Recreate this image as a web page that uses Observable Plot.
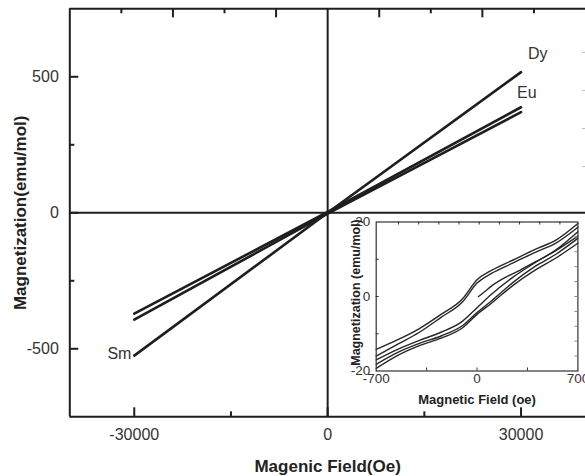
<!DOCTYPE html>
<html>
<head>
<meta charset="utf-8">
<script src="https://cdn.jsdelivr.net/npm/d3@7"></script>
<script src="https://cdn.jsdelivr.net/npm/@observablehq/plot@0.6"></script>
<style>
  html, body { margin: 0; padding: 0; background: #fff; }
  #wrap { position: relative; width: 585px; height: 476px; overflow: hidden; font-family: "Liberation Sans", Arial, sans-serif; }
  #inset { position: absolute; left: 330px; top: 212px; }
  svg { overflow: visible; }
</style>
</head>
<body>
<div id="wrap"><div id="main"></div><div id="inset"></div></div>
<script>
// ---- Main chart data (Magnetic field in Oe, magnetization in emu/mol)
const fieldOe = [-30000, 0, 30000];
const dyM = [-525, 0, 517];
const euM = [-371, 3, 388];
const smM = [-393, -3, 370];
const seriesNames = ["Dy", "Eu", "Sm"];

// annotation labels
const labelText = ["Dy", "Eu", "Sm"];
const labelField = [32600, 30900, -32300];
const labelMag = [586, 442, -517];

// axis ticks
const xTickLabels = [-30000, 0, 30000];
const xMinorTicks = [-15000, 15000];
const yTickLabels = [-500, 0, 500];
const yMinorTicks = [-250, 250];
const topLongTicks = [-24000, -8000, 8000, 24000];
const topShortTicks = [-32000, -16000, 16000, 32000];
const rightTicks = [170, 310, 450, 590];

// ---- Inset data (Magnetic field in oe, magnetization in emu/mol)
const insetH = [-700, -550, -400, -250, -100, 0, 100, 250, 400, 550, 700];
const loopADown = [-14.2, -11.6, -8.6, -4.8, -0.6, 4.5, 7.0, 9.8, 12.6, 15.2, 19.6];
const loopBDown = [-16.0, -12.8, -9.6, -5.6, -1.4, 3.6, 6.2, 9.0, 11.8, 14.4, 18.6];
const loopAUp   = [-18.2, -15.0, -12.6, -10.6, -7.8, -4.3, -1.2, 3.8, 8.0, 11.4, 15.6];
const loopBUp   = [-19.3, -15.8, -13.2, -11.2, -8.4, -4.8, -1.8, 3.0, 7.0, 10.4, 14.3];
const loopCUp   = [-17.0, -14.2, -11.8, -9.6, -6.6, -3.0, 0.6, 5.2, 9.0, 12.6, 17.4];
const initH = [10, 50, 100, 200, 300, 400, 550, 700];
const initM = [0, 1.2, 2.8, 5.2, 7.1, 9.2, 12.4, 16.2];

const insetXTicks = [-700, 0, 700];
const insetYTicks = [-20, 0, 20];
const insetTopTicks = [-545, -405, -265, -125, 15, 155, 295, 435, 575];
const insetBottomTicks = [-350, 0, 350];
const insetLeftTicks = [-10, 0, 10];
const insetRightTicks = [-16, -12, -8, -4, 0, 4, 8, 12, 16];

// ---- build tables
const mainRows = [];
[dyM, euM, smM].forEach((arr, s) => arr.forEach((m, i) => mainRows.push({series: seriesNames[s], H: fieldOe[i], M: m})));
const labels = labelText.map((t, i) => ({t, H: labelField[i], M: labelMag[i]}));

const insetRows = [];
[["A-down", loopADown], ["B-down", loopBDown], ["A-up", loopAUp], ["B-up", loopBUp], ["C-up", loopCUp]]
  .forEach(([k, arr]) => arr.forEach((m, i) => insetRows.push({k, H: insetH[i], M: m})));
initH.forEach((h, i) => insetRows.push({k: "init", H: h, M: initM[i]}));

const W = 585, Hh = 476, mL = 69.3, mR = 0, mT = 8.3, mB = 59.7;
const pw = W - mL - mR, ph = Hh - mT - mB;
const ink = "#1e1e1e";

const main = Plot.plot({
  width: W, height: Hh,
  marginLeft: mL, marginRight: mR, marginTop: mT, marginBottom: mB,
  x: {domain: [-40000, 40000]},
  y: {domain: [-750, 750]},
  style: {fontFamily: "'Liberation Sans', Arial, sans-serif", color: "#2a2a2a", background: "transparent"},
  marks: [
    // frame (left, top, bottom)
    Plot.ruleX([-40000], {stroke: ink, strokeWidth: 2}),
    Plot.ruleY([-750, 750], {stroke: ink, strokeWidth: 2}),
    // zero lines
    Plot.ruleX([0], {stroke: ink, strokeWidth: 2}),
    Plot.ruleY([0], {stroke: ink, strokeWidth: 2}),
    // inward ticks
    Plot.ruleX(xTickLabels, {stroke: ink, strokeWidth: 2, insetTop: ph - 9}),
    Plot.ruleX(xMinorTicks, {stroke: ink, strokeWidth: 2, insetTop: ph - 5}),
    Plot.ruleX(topLongTicks, {stroke: ink, strokeWidth: 2, insetBottom: ph - 9}),
    Plot.ruleX(topShortTicks, {stroke: ink, strokeWidth: 2, insetBottom: ph - 5}),
    Plot.ruleY(yTickLabels, {stroke: ink, strokeWidth: 2, insetRight: pw - 9}),
    Plot.ruleY(yMinorTicks, {stroke: ink, strokeWidth: 2, insetRight: pw - 5}),
    Plot.ruleY(rightTicks, {stroke: "#bbb", strokeWidth: 1, insetLeft: pw - 3}),
    // lines
    Plot.line(mainRows, {x: "H", y: "M", z: "series", stroke: ink, strokeWidth: 2.6}),
    // labels
    Plot.text(labels, {x: "H", y: "M", text: "t", fontSize: 16, fill: "#333"}),
    // tick labels
    Plot.axisX({anchor: "bottom", ticks: xTickLabels, tickSize: 0, tickPadding: 12, fontSize: 16, tickFormat: d => String(d), label: null, fill: "#333"}),
    Plot.axisY({anchor: "left", ticks: yTickLabels, tickSize: 0, tickPadding: 11, fontSize: 16, tickFormat: d => String(d), label: null, fill: "#333"}),
    // axis titles
    Plot.text(["Magenic Field(Oe)"], {frameAnchor: "bottom", dy: 50, text: d => d, textAnchor: "middle", lineAnchor: "middle", fontSize: 17, fontWeight: "bold", fill: "#222"}),
    Plot.text(["Magnetization(emu/mol)"], {frameAnchor: "left", dx: -49.3, text: d => d, textAnchor: "middle", lineAnchor: "middle", rotate: -90, fontSize: 17, fontWeight: "bold", fill: "#222"})
  ]
});
document.getElementById("main").appendChild(main);

// ---- inset
const iW = 255, iH = 200, iL = 45.7, iR = 7.6, iT = 9.5, iB = 41.5;
const ipw = iW - iL - iR, iph = iH - iT - iB;
const iink = "#333";
const inset = Plot.plot({
  width: iW, height: iH,
  marginLeft: iL, marginRight: iR, marginTop: iT, marginBottom: iB,
  x: {domain: [-700, 700]},
  y: {domain: [-20, 20]},
  style: {fontFamily: "'Liberation Sans', Arial, sans-serif", color: "#2a2a2a", background: "transparent"},
  marks: [
    Plot.frame({fill: "white", stroke: "none"}),
    Plot.line(insetRows, {x: "H", y: "M", z: "k", stroke: "#262626", strokeWidth: 1.4, curve: "monotone-x"}),
    Plot.frame({stroke: iink, strokeWidth: 1.2}),
    Plot.ruleX(insetTopTicks, {stroke: iink, strokeWidth: 1, insetBottom: iph - 3}),
    Plot.ruleX(insetBottomTicks, {stroke: iink, strokeWidth: 1, insetTop: iph - 3}),
    Plot.ruleY(insetLeftTicks, {stroke: iink, strokeWidth: 1, insetRight: ipw - 3}),
    Plot.ruleY(insetRightTicks, {stroke: "#888", strokeWidth: 1, insetLeft: ipw - 3}),
    Plot.axisX({anchor: "bottom", ticks: insetXTicks, tickSize: 0, tickPadding: 2, fontSize: 13.5, tickFormat: d => String(d), label: null, fill: "#333"}),
    Plot.axisY({anchor: "left", ticks: insetYTicks, tickSize: 0, tickPadding: 6, fontSize: 13.5, tickFormat: d => String(d), label: null, fill: "#333"}),
    Plot.text(["Magnetic Field (oe)"], {frameAnchor: "bottom", dy: 29, text: d => d, textAnchor: "middle", lineAnchor: "middle", fontSize: 13, fontWeight: "bold", fill: "#222"}),
    Plot.text(["Magnetization (emu/mol)"], {frameAnchor: "left", dx: -20.7, dy: -4, text: d => d, textAnchor: "middle", lineAnchor: "middle", rotate: -90, fontSize: 12.5, fontWeight: "bold", fill: "#222"})
  ]
});
document.getElementById("inset").appendChild(inset);
</script>
</body>
</html>
